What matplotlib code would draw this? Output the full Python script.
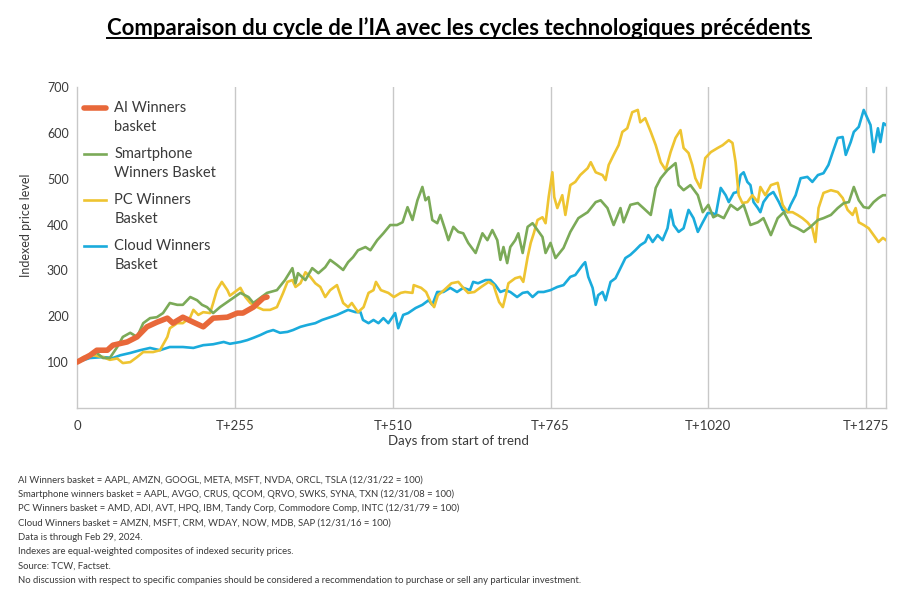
import matplotlib
matplotlib.use('Agg')
import matplotlib.pyplot as plt
from matplotlib.lines import Line2D
from matplotlib.legend_handler import HandlerLine2D

# --- data (days from start of trend, indexed level) ---
ai_days = [0, 21, 32, 49, 58, 81, 97, 113, 129, 146, 155, 171, 188, 204, 220,
           243, 259, 268, 285, 301, 307]
ai_vals = [100, 115, 126, 126, 137, 144, 155, 177, 187, 196, 185, 198, 187, 177, 196,
           198, 207, 207, 220, 240, 242]

phone_days = [0, 16, 32, 42, 53, 65, 74, 86, 97, 107, 118, 129, 139, 150, 162,
              171, 183, 194, 202, 210, 220, 231, 247, 264, 277, 285, 307, 323, 336, 348,
              353, 357, 369, 380, 390, 401, 409, 420, 430, 438, 446, 454, 466, 474, 485,
              495, 506, 517, 526, 534, 542, 550, 558, 563, 568, 574, 582, 587, 595, 600,
              608, 616, 624, 632, 644, 655, 663, 671, 679, 684, 689, 695, 700, 708, 713,
              720, 728, 736, 744, 752, 757, 765, 773, 786, 797, 810, 825, 838, 846, 857,
              867, 878, 883, 894, 906, 915, 927, 935, 943, 954, 967, 972, 980, 991, 1003,
              1011, 1020, 1028, 1035, 1045, 1056, 1067, 1077, 1088, 1100, 1109, 1121, 1132, 1142, 1153,
              1164, 1174, 1185, 1197, 1206, 1218, 1229, 1239, 1247, 1255, 1263, 1271, 1279, 1287, 1295,
              1302, 1307]
phone_vals = [100, 111, 120, 109, 109, 133, 155, 164, 155, 185, 196, 198, 207, 229, 225,
              225, 242, 235, 225, 220, 207, 220, 235, 251, 242, 229, 251, 257, 279, 305,
              272, 294, 279, 305, 294, 307, 323, 312, 301, 318, 329, 344, 351, 344, 366,
              381, 399, 399, 405, 438, 410, 453, 482, 453, 460, 410, 403, 421, 388, 366,
              395, 384, 381, 360, 338, 381, 366, 388, 366, 323, 351, 316, 351, 366, 381,
              338, 395, 403, 388, 373, 338, 360, 327, 349, 384, 414, 427, 449, 453, 436,
              399, 436, 405, 443, 447, 436, 421, 480, 501, 519, 534, 486, 475, 486, 464,
              427, 443, 416, 421, 414, 443, 432, 443, 399, 405, 414, 377, 414, 427, 399,
              392, 384, 395, 410, 414, 421, 436, 447, 449, 482, 453, 438, 436, 449, 458,
              464, 464]

pc_days = [0, 10, 26, 42, 53, 65, 74, 86, 97, 107, 123, 134, 146, 150, 162,
           171, 183, 188, 196, 204, 215, 220, 226, 234, 243, 247, 259, 264, 272, 280,
           291, 301, 312, 323, 333, 340, 348, 353, 361, 369, 377, 385, 393, 401, 409,
           420, 430, 438, 444, 454, 463, 471, 479, 483, 491, 503, 512, 523, 530, 542,
           544, 556, 564, 572, 577, 583, 593, 605, 616, 624, 632, 642, 653, 665, 673,
           677, 682, 688, 692, 697, 708, 716, 721, 728, 733, 738, 744, 752, 757, 762,
           768, 771, 776, 784, 789, 797, 805, 813, 825, 830, 838, 849, 854, 859, 867,
           875, 881, 889, 897, 906, 910, 918, 927, 935, 943, 951, 959, 967, 975, 980,
           988, 994, 999, 1007, 1015, 1024, 1035, 1043, 1053, 1059, 1064, 1069, 1075, 1083, 1091,
           1100, 1104, 1112, 1121, 1132, 1140, 1148, 1156, 1164, 1172, 1180, 1188, 1193, 1198, 1206,
           1218, 1229, 1237, 1245, 1253, 1258, 1263, 1271, 1279, 1287, 1295, 1302, 1307]
pc_vals = [100, 111, 115, 111, 105, 108, 98, 100, 111, 122, 122, 126, 155, 174, 185,
           185, 198, 214, 203, 209, 207, 229, 257, 275, 257, 245, 257, 262, 242, 229,
           220, 214, 214, 220, 251, 275, 279, 264, 272, 296, 286, 272, 264, 242, 257,
           268, 229, 220, 229, 209, 220, 251, 257, 275, 257, 251, 242, 251, 253, 251,
           268, 262, 253, 229, 220, 246, 257, 272, 275, 262, 251, 253, 264, 275, 268,
           251, 231, 220, 242, 272, 283, 286, 275, 329, 360, 381, 410, 416, 403, 460,
           514, 460, 436, 464, 421, 486, 493, 508, 523, 536, 514, 508, 497, 530, 552,
           573, 602, 610, 645, 650, 623, 632, 602, 573, 536, 519, 558, 589, 606, 567,
           556, 530, 501, 480, 545, 558, 567, 573, 584, 578, 536, 464, 447, 449, 464,
           449, 482, 464, 486, 491, 443, 427, 427, 421, 414, 405, 392, 362, 436, 469,
           475, 471, 458, 432, 421, 436, 405, 399, 392, 377, 362, 371, 366]

cloud_days = [0, 21, 42, 58, 70, 86, 102, 118, 134, 150, 171, 188, 204, 220, 237,
              247, 264, 275, 285, 296, 307, 317, 328, 340, 349, 361, 372, 385, 396, 409,
              420, 430, 438, 450, 458, 462, 471, 479, 487, 495, 503, 514, 519, 527, 535,
              547, 558, 568, 574, 582, 592, 603, 614, 624, 635, 640, 648, 660, 668, 676,
              684, 692, 700, 711, 720, 728, 736, 745, 754, 765, 776, 786, 797, 805, 817,
              821, 826, 833, 838, 842, 849, 854, 862, 870, 878, 886, 894, 902, 910, 918,
              923, 930, 938, 946, 954, 959, 964, 972, 980, 988, 996, 1003, 1011, 1019, 1027,
              1032, 1040, 1048, 1053, 1061, 1067, 1072, 1077, 1083, 1088, 1093, 1100, 1104, 1109, 1117,
              1125, 1134, 1140, 1148, 1153, 1161, 1169, 1180, 1188, 1197, 1206, 1214, 1221, 1229, 1237,
              1242, 1250, 1255, 1263, 1271, 1277, 1282, 1287, 1294, 1298, 1303, 1307]
cloud_vals = [100, 109, 111, 109, 115, 120, 126, 131, 126, 133, 133, 131, 137, 139, 144,
              140, 144, 148, 153, 159, 166, 170, 164, 166, 170, 177, 181, 185, 192, 198,
              203, 209, 214, 209, 209, 192, 185, 192, 185, 196, 185, 207, 174, 203, 207,
              218, 225, 235, 225, 253, 253, 262, 253, 262, 257, 275, 272, 279, 279, 268,
              253, 257, 253, 242, 251, 253, 242, 253, 253, 257, 264, 268, 286, 290, 312,
              318, 286, 262, 225, 246, 253, 235, 275, 283, 305, 327, 334, 344, 355, 362,
              377, 362, 377, 366, 392, 432, 399, 384, 392, 432, 414, 384, 405, 425, 425,
              421, 480, 464, 449, 469, 471, 508, 514, 493, 486, 449, 436, 427, 449, 464,
              471, 449, 432, 427, 443, 464, 501, 504, 493, 508, 512, 530, 558, 589, 591,
              552, 580, 602, 613, 650, 632, 617, 558, 610, 580, 621, 617]

series_labels = ['AI Winners\nbasket', 'Smartphone\nWinners Basket',
                 'PC Winners\nBasket', 'Cloud Winners\nBasket']
series_colors = ['#E8683A', '#7BAA58', '#EEC431', '#1AABDC']

x_ticks = [0, 255, 510, 765, 1020, 1275]
x_ticklabels = ['0', 'T+255', 'T+510', 'T+765', 'T+1020', 'T+1275']
y_ticks = [100, 200, 300, 400, 500, 600, 700]

title_text = 'Comparaison du cycle de l\u2019IA avec les cycles technologiques pr\u00e9c\u00e9dents'
footnotes = [
    'AI Winners basket = AAPL, AMZN, GOOGL, META, MSFT, NVDA, ORCL, TSLA (12/31/22 = 100)',
    'Smartphone winners basket = AAPL, AVGO, CRUS, QCOM, QRVO, SWKS, SYNA, TXN (12/31/08 = 100)',
    'PC Winners basket = AMD, ADI, AVT, HPQ, IBM, Tandy Corp, Commodore Comp, INTC (12/31/79 = 100)',
    'Cloud Winners basket = AMZN, MSFT, CRM, WDAY, NOW, MDB, SAP (12/31/16 = 100)',
    'Data is through Feb 29, 2024.',
    'Indexes are equal-weighted composites of indexed security prices.',
    'Source: TCW, Factset.',
    'No discussion with respect to specific companies should be considered a recommendation to purchase or sell any particular investment.',
]

plt.rcParams['font.family'] = ['Lato', 'DejaVu Sans']
TEXT = '#3a3a3a'
GRID = '#c8c8c8'


class TopHandler(HandlerLine2D):
    # put the legend key next to the first line of a two-line label
    def create_artists(self, legend, orig_handle, xdescent, ydescent, width, height, fontsize, trans):
        arts = super().create_artists(legend, orig_handle, xdescent, ydescent, width, height, fontsize, trans)
        for a in arts:
            a.set_ydata([y + 0.7 * fontsize for y in a.get_ydata()])
        return arts


fig = plt.figure(figsize=(8.97, 5.94), dpi=100)
ax = fig.add_axes([77 / 897, 1 - 408 / 594, (886 - 77) / 897, (408 - 87) / 594])

# cloud, pc, phone first so the AI line sits on top
ax.plot(cloud_days, cloud_vals, color=series_colors[3], lw=1.9, label=series_labels[3], zorder=3)
ax.plot(pc_days, pc_vals, color=series_colors[2], lw=1.9, label=series_labels[2], zorder=3)
ax.plot(phone_days, phone_vals, color=series_colors[1], lw=1.9, label=series_labels[1], zorder=3)
ax.plot(ai_days, ai_vals, color=series_colors[0], lw=4, label=series_labels[0], zorder=4,
        solid_capstyle='round')

ax.set_xlim(0, 1307)
ax.set_ylim(0, 700)
ax.set_xticks(x_ticks)
ax.set_xticklabels(x_ticklabels)
ax.set_yticks(y_ticks)
ax.tick_params(length=0, labelsize=9.5, colors=TEXT, pad=9)
ax.tick_params(axis='y', labelsize=9, pad=6)
for xv in x_ticks[1:]:
    ax.axvline(xv, color=GRID, lw=1, zorder=1)
for side in ['left', 'bottom', 'right']:
    ax.spines[side].set_color(GRID)
    ax.spines[side].set_linewidth(1)
ax.spines['top'].set_visible(False)

ax.set_xlabel('Days from start of trend', fontsize=9.5, color=TEXT)
ax.xaxis.set_label_coords((458 - 77) / (886 - 77), -0.083)
ax.set_ylabel('Indexed price level', fontsize=9, color=TEXT)
ax.yaxis.set_label_coords(-0.056, 0.57)

h, l = ax.get_legend_handles_labels()
order = [3, 2, 1, 0]
leg = ax.legend([h[i] for i in order], [l[i] for i in order], loc='upper left',
                bbox_to_anchor=(-0.009, 1.0), frameon=False, fontsize=10.5,
                handlelength=1.55, handletextpad=0.55, labelspacing=0.9,
                borderaxespad=0.55, handler_map={Line2D: TopHandler()})
for t in leg.get_texts():
    t.set_color(TEXT)
    t.set_linespacing(1.45)

title = fig.text(459 / 897, 1 - 28 / 594, title_text, ha='center', va='center',
                 fontsize=15.9, fontweight='bold', color='black')

for i, line in enumerate(footnotes):
    fig.text(18 / 897, 1 - (480 + i * 14.3) / 594, line, ha='left', va='center',
             fontsize=6.87, color=TEXT)

# underline the title
fig.canvas.draw()
bb = title.get_window_extent(fig.canvas.get_renderer())
uy = (bb.y0 + 1) / fig.bbox.height
fig.add_artist(Line2D([bb.x0 / fig.bbox.width, bb.x1 / fig.bbox.width], [uy, uy],
                      transform=fig.transFigure, color='black', lw=1.4))

fig.savefig('out.png', dpi=100)
